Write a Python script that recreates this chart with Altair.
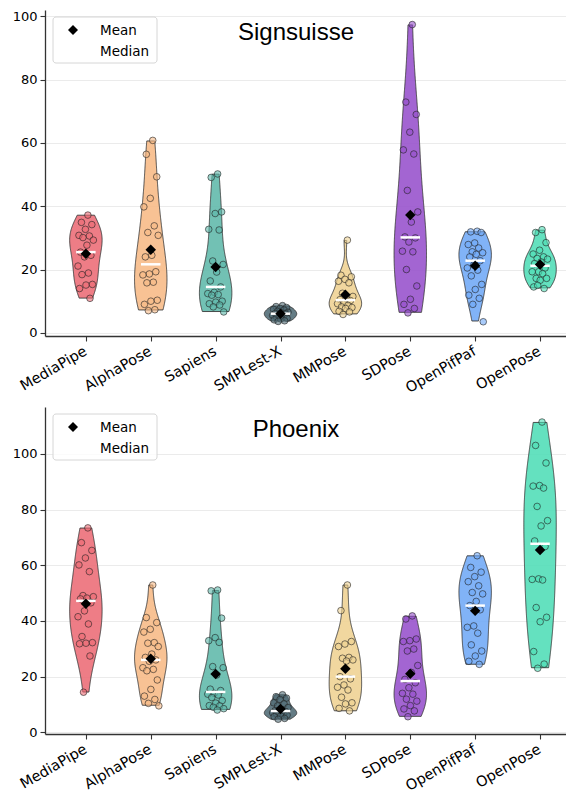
import json
import altair as alt
import pandas as pd

models = ["MediaPipe", "AlphaPose", "Sapiens", "SMPLest-X", "MMPose", "SDPose", "OpenPifPaf", "OpenPose"]
colors = ["#EC6B75", "#F7B985", "#5EB8AA", "#4E6A74", "#EFD292", "#9650CC", "#70A8F6", "#4EDDB6"]
panel_titles = ["Signsuisse", "Phoenix"]
legend_labels = ["Mean", "Median"]

signsuisse = {
    "MediaPipe": [37.2, 34.9, 34.2, 32.7, 30.8, 30.6, 30.1, 29.3, 27.7, 25.5, 24.5, 24.0, 21.1, 18.9, 18.4, 15.3, 15.1, 14.0, 10.9],
    "AlphaPose": [60.8, 56.4, 49.3, 42.5, 39.8, 33.8, 31.7, 30.8, 24.5, 24.0, 19.3, 18.6, 18.3, 16.0, 15.8, 10.3, 10.0, 9.0, 7.3, 7.0],
    "Sapiens": [50.2, 49.1, 38.2, 37.7, 32.7, 32.5, 22.7, 21.6, 19.2, 16.4, 14.5, 12.8, 12.4, 12.1, 11.9, 10.0, 9.7, 9.2, 8.8, 8.2, 6.6],
    "SMPLest-X": [8.6, 8.3, 8.0, 7.7, 7.4, 7.2, 6.8, 6.5, 6.3, 6.1, 6.0, 5.8, 5.5, 5.2, 4.9, 4.6, 4.4, 4.1, 3.8, 3.6],
    "MMPose": [29.3, 18.2, 17.7, 16.9, 16.3, 15.8, 12.5, 11.5, 10.8, 10.5, 10.2, 9.5, 9.2, 8.7, 8.2, 8.0, 7.7, 6.8, 6.6, 5.8],
    "SDPose": [97.4, 72.9, 69.0, 63.4, 57.8, 56.5, 45.0, 38.2, 35.0, 30.3, 30.0, 28.7, 25.8, 25.6, 20.0, 14.8, 10.6, 9.0, 7.7, 6.3],
    "OpenPifPaf": [32.1, 31.9, 31.7, 28.4, 27.9, 26.8, 25.6, 25.3, 24.8, 24.0, 22.8, 21.4, 20.5, 19.8, 18.0, 15.3, 13.7, 11.9, 10.9, 9.0, 3.5],
    "OpenPose": [32.6, 31.7, 28.5, 26.1, 24.9, 24.0, 23.5, 23.3, 22.4, 21.9, 20.5, 19.3, 19.3, 18.7, 17.2, 17.2, 16.6, 14.5, 14.0, 15.0],
}

phoenix = {
    "MediaPipe": [73.4, 68.1, 65.3, 62.6, 60.1, 57.7, 49.1, 48.7, 48.2, 47.9, 46.5, 43.6, 41.5, 38.9, 34.4, 32.2, 32.0, 31.8, 27.4, 14.4],
    "AlphaPose": [52.9, 41.2, 39.4, 37.0, 36.0, 32.2, 32.0, 30.8, 28.1, 26.9, 26.0, 25.5, 23.2, 22.6, 22.1, 18.8, 15.4, 13.0, 11.8, 10.4, 9.5],
    "Sapiens": [51.1, 50.8, 41.0, 34.0, 32.9, 32.3, 23.6, 23.2, 20.6, 15.5, 15.0, 14.0, 13.7, 13.4, 12.5, 11.4, 10.5, 9.6, 9.5, 9.0, 8.5, 8.0],
    "SMPLest-X": [13.5, 12.8, 12.3, 11.8, 10.6, 10.2, 9.5, 8.9, 8.2, 7.8, 7.5, 7.3, 7.0, 6.8, 6.5, 6.2, 5.9, 5.6, 5.0, 4.7],
    "MMPose": [52.9, 43.7, 32.6, 31.7, 30.8, 26.9, 26.6, 26.0, 25.6, 20.0, 19.2, 17.0, 16.2, 15.2, 12.6, 10.6, 10.2, 8.6, 7.7],
    "SDPose": [41.8, 40.7, 33.5, 32.9, 32.6, 29.9, 29.2, 24.0, 21.5, 19.0, 17.8, 16.0, 14.0, 13.7, 11.9, 11.2, 9.6, 8.4, 7.7, 5.6],
    "OpenPifPaf": [63.4, 59.2, 57.5, 55.9, 54.1, 52.6, 50.2, 49.7, 47.0, 45.5, 44.0, 38.2, 37.7, 35.6, 31.4, 29.2, 27.4, 25.5, 24.4],
    "OpenPose": [111.4, 103.0, 96.7, 88.6, 88.4, 87.7, 81.1, 76.0, 74.1, 68.7, 66.7, 55.1, 54.9, 54.7, 44.8, 41.3, 39.7, 29.0, 24.5, 23.0],
}


def to_frame(d):
    rows = []
    for m in models:
        for v in d[m]:
            rows.append({"model": m, "value": v})
    return pd.DataFrame(rows)


IDX = "indexof(%s, datum.model)" % json.dumps(models)
LABEL_EXPR = "%s[datum.value]" % json.dumps(models)
WIDTH = 521
color_scale = alt.Scale(domain=models, range=colors)


def panel(data, title, ydomain, yvals, height):
    xscale = alt.Scale(domain=[-0.63, 7.40], nice=False, zero=False)
    yscale = alt.Scale(domain=ydomain, nice=False, zero=False)
    xaxis = alt.Axis(values=list(range(8)), labelExpr=LABEL_EXPR, title=None, grid=False,
                     labelAngle=-30, labelAlign="right", labelBaseline="top", labelOverlap=False,
                     tickSize=5, labelPadding=3, labelOffset=-4, labelFontSize=14.5)
    yaxis = alt.Axis(values=yvals, title=None, grid=True, gridColor="#ebebeb", gridWidth=1,
                     labelExpr="datum.value % 20 === 0 ? datum.label : ''",
                     tickSize={"condition": {"test": "datum.value % 20 === 0", "value": 5}, "value": 3},
                     labelPadding=3, labelFontSize=13)
    base = alt.Chart(data)

    dens = base.transform_joinaggregate(
        mn="min(value)", mx="max(value)", groupby=["model"]
    ).transform_density(
        "value", as_=["v", "dens"], groupby=["model", "mn", "mx"], extent=[0, 115], steps=461
    ).transform_filter(
        "datum.v >= datum.mn && datum.v <= datum.mx"
    ).transform_joinaggregate(
        dmax="max(dens)", vmin="min(v)", groupby=["model"]
    ).transform_calculate(
        idx=IDX
    ).transform_calculate(
        lo="datum.idx - 0.25 * datum.dens / datum.dmax"
    ).transform_calculate(
        hi="datum.idx + 0.25 * datum.dens / datum.dmax"
    ).transform_calculate(
        lo2="datum.lo"
    )

    violin = dens.mark_area(
        orient="horizontal", fillOpacity=0.88, strokeWidth=0
    ).encode(
        y=alt.Y("v:Q", scale=yscale, axis=yaxis),
        x=alt.X("lo:Q", scale=xscale, axis=xaxis),
        x2="hi:Q",
        fill=alt.Fill("model:N", scale=color_scale, legend=None),
        detail="model:N",
    )

    outline = dens.transform_fold(
        ["lo", "hi", "lo2"], as_=["side", "xs"]
    ).transform_filter(
        "datum.side != 'lo2' || datum.v == datum.vmin"
    ).transform_calculate(
        ord="datum.side == 'lo' ? datum.v : (datum.side == 'hi' ? 1000 - datum.v : 3000)"
    ).mark_line(
        color="#3a3a3a", strokeWidth=0.9
    ).encode(
        x="xs:Q", y="v:Q", detail="model:N", order="ord:Q"
    )

    pts = base.transform_calculate(
        idx=IDX
    ).transform_window(
        rn="row_number()", groupby=["model"]
    ).transform_calculate(
        xj="datum.idx + ((datum.rn * 0.618034) % 1 - 0.5) * 0.26"
    ).mark_circle(
        size=44, fillOpacity=0.6, stroke="#222222", strokeOpacity=0.75, strokeWidth=0.8
    ).encode(
        x="xj:Q", y="value:Q",
        fill=alt.Fill("model:N", scale=color_scale, legend=None),
    )

    stats = base.transform_aggregate(
        med="median(value)", avg="mean(value)", groupby=["model"]
    ).transform_calculate(
        idx=IDX
    ).transform_calculate(
        lo="datum.idx - 0.15"
    ).transform_calculate(
        hi="datum.idx + 0.15"
    )
    median = stats.mark_rule(color="white", strokeWidth=2.5).encode(
        x="lo:Q", x2="hi:Q", y="med:Q"
    )
    mean = stats.mark_point(shape="diamond", filled=True, color="black", size=110, opacity=1).encode(
        x="idx:Q", y="avg:Q"
    )

    one = pd.DataFrame({"k": [0]})
    box = alt.Chart(one).mark_rect(
        fill="white", fillOpacity=0.8, stroke="#d6d6d6", strokeWidth=1, cornerRadius=3
    ).encode(x=alt.value(8), x2=alt.value(112), y=alt.value(7), y2=alt.value(53))
    leg_mark = alt.Chart(one).mark_point(
        shape="diamond", filled=True, color="black", size=100, opacity=1
    ).encode(x=alt.value(28), y=alt.value(20))
    leg_texts = [
        alt.Chart(pd.DataFrame({"t": [lab]})).mark_text(
            align="left", baseline="alphabetic", font="DejaVu Sans", fontSize=13.5, color="#000"
        ).encode(x=alt.value(55), y=alt.value(25 + 21 * i), text="t:N")
        for i, lab in enumerate(legend_labels)
    ]
    ttl = alt.Chart(pd.DataFrame({"t": [title]})).mark_text(
        align="center", baseline="alphabetic", font="Liberation Sans", fontSize=24, color="#000"
    ).encode(x=alt.value(251), y=alt.value(30), text="t:N")

    return alt.layer(violin, outline, pts, median, mean, box, leg_mark, *leg_texts, ttl).properties(
        width=WIDTH, height=height
    )


top = panel(to_frame(signsuisse), panel_titles[0], [-1.0, 102.0], list(range(0, 101, 5)), 326)
bottom = panel(to_frame(phoenix), panel_titles[1], [-0.6, 116.8], list(range(0, 116, 5)), 327)

chart = alt.vconcat(top, bottom, spacing=12).properties(
    padding={"left": 4, "top": 2, "right": 0, "bottom": 0}
).configure_view(
    stroke=None
).configure_axis(
    domainColor="#333333", domainWidth=1.3, tickColor="#333333", tickWidth=1.1,
    labelFont="DejaVu Sans", labelColor="#000000"
)

chart.save("out.html", embed_options={"renderer": "svg", "actions": False})
